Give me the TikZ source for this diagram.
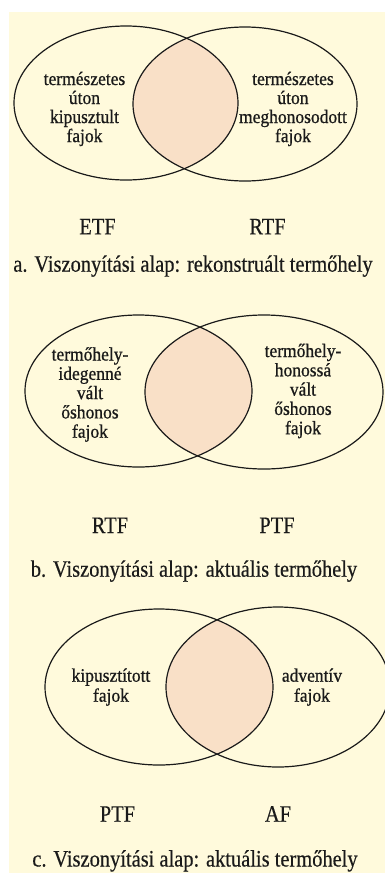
\documentclass[tikz,border=0pt]{standalone}
\usepackage{fontspec}
\setmainfont{Liberation Serif}
\newfontfamily\innerfont{Liberation Serif}[FakeStretch=0.92,FakeBold=0.8]
\newfontfamily\labfont{Liberation Serif}[FakeStretch=0.87,FakeBold=0.4]
\definecolor{cream}{HTML}{FFFADC}
\definecolor{peach}{HTML}{F9E0C7}
\definecolor{ink}{HTML}{1A1A1A}
\newcommand{\lines}[2]{\innerfont\fontsize{19}{#1}\selectfont\begin{tabular}[t]{@{}c@{}}#2\end{tabular}}
\begin{document}
\begin{tikzpicture}[x=1pt,y=-1pt,
  venn/.style={draw=ink,line width=1.2pt},
  inner/.style={text=ink,inner sep=0pt,anchor=base},
  lab/.style={font=\labfont\fontsize{23.5}{26}\selectfont,text=ink,inner sep=0pt,anchor=base}]
\useasboundingbox (0,0) rectangle (385,873);
\clip (0,0) rectangle (385,873);
\fill[white] (0,0) rectangle (385,873);
\fill[cream] (9,12) rectangle (385,873);

% ---------- panel a ----------
\begin{scope}
  \clip (126,103) ellipse [x radius=112pt, y radius=77pt];
  \fill[peach] (245,104) ellipse [x radius=112pt, y radius=77pt];
\end{scope}
\draw[venn] (126,103) ellipse [x radius=112pt, y radius=77pt];
\draw[venn] (245,104) ellipse [x radius=112pt, y radius=77pt];
\node[inner] (aL) at (84.5,85) {\lines{19}{természetes\\úton\\kipusztult\\fajok}};
\node[inner] (aR) at (293,85) {\lines{19}{természetes\\úton\\meghonosodott\\fajok}};
\node[lab] (aETF) at (97.5,234.3) {ETF};
\node[lab] (aRTF) at (267.5,234.3) {RTF};
\node[lab] (aCap) at (193,271.7) {a. Viszonyítási alap: rekonstruált termőhely};

% ---------- panel b ----------
\begin{scope}
  \clip (138.5,391) ellipse [x radius=113.5pt, y radius=76pt];
  \fill[peach] (264,392) ellipse [x radius=119pt, y radius=77pt];
\end{scope}
\draw[venn] (138.5,391) ellipse [x radius=113.5pt, y radius=76pt];
\draw[venn] (264,392) ellipse [x radius=119pt, y radius=77pt];
\node[inner] (bL) at (90,360.5) {\lines{19.3}{termőhely-\\idegenné\\vált\\őshonos\\fajok}};
\node[inner] (bR) at (303,357) {\lines{19.3}{termőhely-\\honossá\\vált\\őshonos\\fajok}};
\node[lab] (bRTF) at (110,533) {RTF};
\node[lab] (bPTF) at (277,533) {PTF};
\node[lab] (bCap) at (194,576.7) {b. Viszonyítási alap: aktuális termőhely};

% ---------- panel c ----------
\begin{scope}
  \clip (159,687) ellipse [x radius=114pt, y radius=78pt];
  \fill[peach] (278,687) ellipse [x radius=112pt, y radius=80pt];
\end{scope}
\draw[venn] (159,687) ellipse [x radius=114pt, y radius=78pt];
\draw[venn] (278,687) ellipse [x radius=112pt, y radius=80pt];
\node[inner] (cL) at (111,681.7) {\lines{20}{kipusztított\\fajok}};
\node[inner] (cR) at (312,681.7) {\lines{20}{adventív\\fajok}};
\node[lab] (cPTF) at (117.5,821.7) {PTF};
\node[lab] (cAF) at (278,821.7) {AF};
\node[lab] (cCap) at (195,866.5) {c. Viszonyítási alap: aktuális termőhely};
\end{tikzpicture}
\end{document}
